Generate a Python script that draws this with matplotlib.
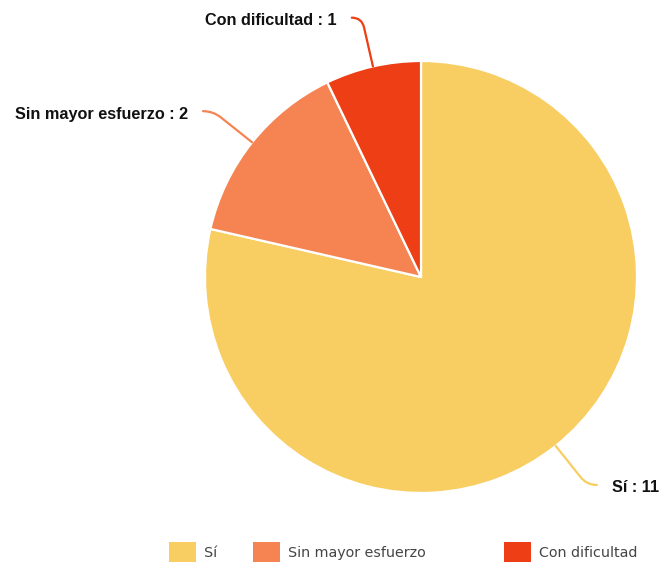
import math
import matplotlib
matplotlib.use("Agg")
import matplotlib.pyplot as plt
from matplotlib.path import Path
from matplotlib.patches import PathPatch, Rectangle

# Data
categories = ["Sí", "Sin mayor esfuerzo", "Con dificultad"]
values = [11, 2, 1]
colors = ["#F8CE63", "#F58452", "#ED3E15"]

W, H = 662, 567
CX, CY, R = 421, H - 277, 216

fig = plt.figure(figsize=(W / 100, H / 100), dpi=100)
ax = fig.add_axes([0, 0, 1, 1])

wedges, _ = ax.pie(values, colors=colors, startangle=90, counterclock=False,
                   center=(CX, CY), radius=R,
                   wedgeprops=dict(edgecolor="white", linewidth=1.6))

# pie() resets the limits, so set them afterwards
ax.set_xlim(0, W)
ax.set_ylim(0, H)
ax.set_aspect("equal")
ax.axis("off")

# Connector lines and labels
for w, cat, val, col in zip(wedges, categories, values, colors):
    mid = math.radians((w.theta1 + w.theta2) / 2)
    dx, dy = math.cos(mid), math.sin(mid)
    side = 1 if dx > 0 else -1
    p0 = (CX + R * dx, CY + R * dy)
    p1 = (CX + (R + 40) * dx, CY + (R + 40) * dy)
    pc = (CX + (R + 50) * dx, CY + (R + 50) * dy)
    p2 = (pc[0] + side * 10, pc[1])
    path = Path([p0, p1, pc, p2],
                [Path.MOVETO, Path.LINETO, Path.CURVE3, Path.CURVE3])
    ax.add_patch(PathPatch(path, facecolor="none", edgecolor=col, lw=1.6,
                           capstyle="round"))
    ax.text(p2[0] + side * 15, p2[1] - 3, f"{cat} : {val}",
            ha="left" if side > 0 else "right", va="center",
            fontsize=11.7, fontweight="bold", family="Liberation Sans",
            color="#111111")

# Legend drawn by hand
legend_x = [169, 253, 504]
for x, cat, col in zip(legend_x, categories, colors):
    ax.add_patch(Rectangle((x, H - 562), 27, 20, facecolor=col, edgecolor="none"))
    ax.text(x + 35, H - 553, cat, ha="left", va="center", fontsize=10.3,
            family="DejaVu Sans", color="#444444")

fig.savefig("out.png", dpi=100)
